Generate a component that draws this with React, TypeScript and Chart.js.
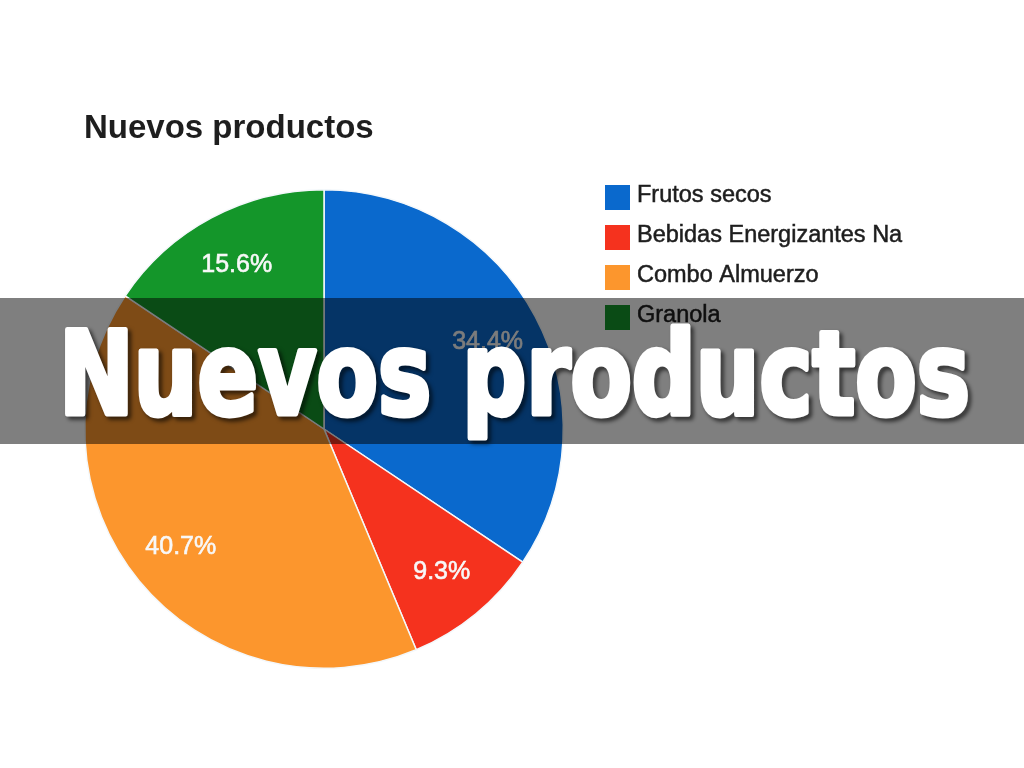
import React, { useEffect, useRef } from "react";
import { Chart, registerables } from "chart.js";

Chart.register(...registerables);

const chartTitle = "Nuevos productos";
const bannerText = "Nuevos productos";
const categories = ["Frutos secos", "Bebidas Energizantes Na", "Combo Almuerzo", "Granola"];
const shares = [34.4, 9.3, 40.7, 15.6];
const sliceColors = ["#0a69cd", "#f5321e", "#fc962d", "#14962a"];

const sliceLabelsPlugin = {
  id: "sliceLabels",
  afterDatasetsDraw(chart: any) {
    const ctx = chart.ctx;
    const meta = chart.getDatasetMeta(0);
    const values = chart.data.datasets[0].data as number[];
    const total = values.reduce((a, b) => a + b, 0);
    ctx.save();
    ctx.font = '25px "Liberation Sans", Arial, sans-serif';
    ctx.fillStyle = "#f8f8f8";
    ctx.strokeStyle = "#f8f8f8";
    ctx.lineWidth = 0.6;
    ctx.textAlign = "center";
    ctx.textBaseline = "middle";
    meta.data.forEach((arc: any, i: number) => {
      const p = arc.getProps(["x", "y", "startAngle", "endAngle", "outerRadius"], true);
      const mid = (p.startAngle + p.endAngle) / 2;
      const r = p.outerRadius * 0.775;
      const txt = ((values[i] / total) * 100).toFixed(1) + "%";
      const x = p.x + Math.cos(mid) * r;
      const y = p.y + Math.sin(mid) * r;
      ctx.fillText(txt, x, y);
      ctx.strokeText(txt, x, y);
    });
    ctx.restore();
  },
};

const legendPlugin = {
  id: "sideLegend",
  afterDraw(chart: any) {
    const ctx = chart.ctx;
    const labels = chart.data.labels as string[];
    const colors = chart.data.datasets[0].backgroundColor as string[];
    ctx.save();
    ctx.font = '23.5px "Liberation Sans", Arial, sans-serif';
    ctx.textBaseline = "alphabetic";
    ctx.textAlign = "left";
    ctx.lineWidth = 0.5;
    labels.forEach((lab, i) => {
      const top = 185 + i * 40;
      ctx.fillStyle = colors[i];
      ctx.fillRect(605, top, 25, 25);
      ctx.fillStyle = "#1e1e1e";
      ctx.strokeStyle = "#1e1e1e";
      ctx.fillText(lab, 637, top + 17);
      ctx.strokeText(lab, 637, top + 17);
    });
    ctx.restore();
  },
};

const bannerPlugin = {
  id: "banner",
  afterDraw(chart: any) {
    const ctx = chart.ctx;
    ctx.save();
    ctx.fillStyle = "rgba(0,0,0,0.5)";
    ctx.fillRect(0, 298, 1024, 146);
    ctx.font = 'bold 116px "DejaVu Sans Condensed", "DejaVu Sans", sans-serif';
    ctx.textBaseline = "alphabetic";
    ctx.textAlign = "left";
    const w = ctx.measureText(bannerText).width;
    const sx = 911 / w;
    ctx.translate(59, 414);
    ctx.scale(sx, 1);
    ctx.lineJoin = "round";
    ctx.lineWidth = 5;
    ctx.strokeStyle = "#ffffff";
    ctx.fillStyle = "#ffffff";
    ctx.shadowColor = "rgba(0,0,0,0.7)";
    ctx.shadowOffsetX = 3;
    ctx.shadowOffsetY = 3;
    ctx.shadowBlur = 4;
    ctx.strokeText(bannerText, 0, 0);
    ctx.shadowColor = "rgba(0,0,0,0)";
    ctx.fillText(bannerText, 0, 0);
    ctx.restore();
  },
};

export default function App() {
  const canvasRef = useRef<HTMLCanvasElement | null>(null);

  useEffect(() => {
    if (!canvasRef.current) return;
    const chart = new Chart(canvasRef.current, {
      type: "pie",
      data: {
        labels: categories,
        datasets: [
          {
            data: shares,
            backgroundColor: sliceColors,
            borderColor: "#f4f8fb",
            borderWidth: 1.5,
          },
        ],
      },
      options: {
        responsive: false,
        animation: false,
        layout: { padding: { left: 84, right: 460, top: 109, bottom: 99 } },
        plugins: {
          legend: { display: false },
          tooltip: { enabled: false },
          title: {
            display: true,
            text: chartTitle,
            align: "start",
            color: "#1e1e1e",
            font: { family: '"Liberation Sans", Arial, sans-serif', size: 33, weight: "bold", lineHeight: 1.2 },
            padding: { top: 0, bottom: 40.4 },
          },
        },
      },
      plugins: [sliceLabelsPlugin, legendPlugin, bannerPlugin],
    });
    return () => chart.destroy();
  }, []);

  return (
    <div style={{ position: "fixed", left: 0, top: 0, width: 1024, height: 768, background: "#ffffff" }}>
      <canvas ref={canvasRef} width={1024} height={768} style={{ display: "block" }} />
    </div>
  );
}
